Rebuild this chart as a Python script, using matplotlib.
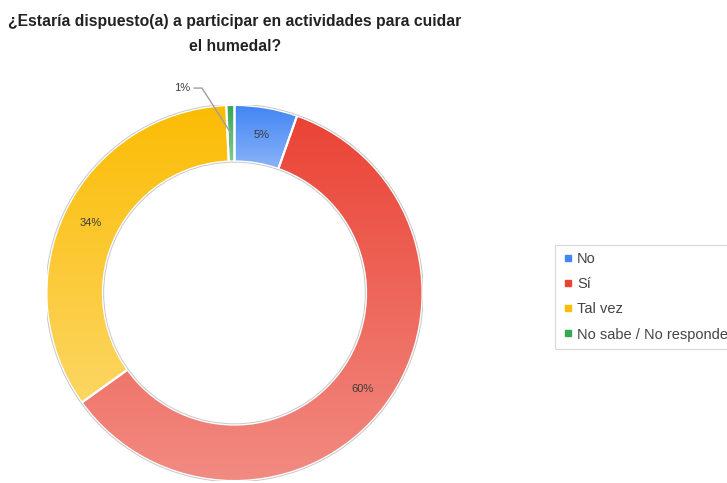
import numpy as np
import matplotlib
matplotlib.use("Agg")
import matplotlib.pyplot as plt
from matplotlib.colors import LinearSegmentedColormap
from matplotlib.lines import Line2D
from matplotlib.patches import Circle, Wedge

plt.rcParams['font.family'] = ['Liberation Sans', 'DejaVu Sans']

title = "¿Estaría dispuesto(a) a participar en actividades para cuidar\nel humedal?"
categories = ["No", "Sí", "Tal vez", "No sabe / No responde"]
values = [5.4, 59.7, 34.2, 0.7]
top_colors = ["#4285F4", "#EA4335", "#FBBC04", "#34A853"]
bottom_colors = ["#8AB4F8", "#F28B82", "#FDD663", "#81C995"]

W, H = 727, 483
fig = plt.figure(figsize=(W / 100, H / 100), dpi=100)

cx, cy, R = 234.5, 293.0, 188.0
ax = fig.add_axes([(cx - R) / W, (H - cy - R) / H, 2 * R / W, 2 * R / H])
ring = 0.30

wedges, _ = ax.pie(values, startangle=90, counterclock=False, radius=1.0,
                   colors=top_colors,
                   wedgeprops=dict(width=ring, edgecolor='white', linewidth=1.5))

# per-slice vertical gradient
for w, c0, c1 in zip(wedges, top_colors, bottom_colors):
    t = np.linspace(np.radians(w.theta1), np.radians(w.theta2), 200)
    xs = np.concatenate([np.cos(t), (1 - ring) * np.cos(t)])
    ys = np.concatenate([np.sin(t), (1 - ring) * np.sin(t)])
    cmap = LinearSegmentedColormap.from_list("g", [c1, c0])
    grad = np.linspace(0, 1, 256).reshape(-1, 1)
    im = ax.imshow(grad, extent=[xs.min(), xs.max(), ys.min(), ys.max()],
                   origin='lower', cmap=cmap, aspect='auto', zorder=w.get_zorder() + 0.1,
                   interpolation='bilinear')
    im.set_clip_path(w)
for w in wedges:
    ax.add_patch(Wedge((0, 0), 1.0, w.theta1, w.theta2, width=ring,
                       facecolor='none', edgecolor='white', linewidth=1.5, zorder=3))

# faint outline
ax.add_patch(Circle((0, 0), 1.004, fill=False, edgecolor='#c8c8c8', linewidth=0.7, zorder=4))
ax.add_patch(Circle((0, 0), 1 - ring - 0.004, fill=False, edgecolor='#c8c8c8', linewidth=0.7, zorder=4))

# labels
mid_r = 1 - ring / 2
for w, v in zip(wedges, values):
    ang = np.radians((w.theta1 + w.theta2) / 2)
    x, y = mid_r * np.cos(ang), mid_r * np.sin(ang)
    lbl = f"{v:.0f}%"
    if v >= 2:
        ax.text(x, y, lbl, ha='center', va='center', fontsize=8, color='#3c3c3c', zorder=5)
    else:
        ax.plot([-0.215, -0.173, x], [1.09, 1.09, y], color='#9e9e9e', lw=1.0, zorder=5,
                clip_on=False)
        ax.text(-0.235, 1.09, lbl, ha='right', va='center', fontsize=8, color='#3c3c3c',
                zorder=5, clip_on=False)

ax.set_xlim(-1, 1)
ax.set_ylim(-1, 1)
ax.set_aspect('auto')
ax.axis('off')

fig.text(235 / W, 1 - 14 / H, title, ha='center', va='top', fontsize=11.3,
         fontweight='bold', color='#222222', linespacing=1.85, multialignment='center')

handles = [Line2D([], [], marker='s', linestyle='none', markersize=4,
                  markerfacecolor=c, markeredgecolor=c) for c in top_colors]
leg = fig.legend(handles, categories, loc='upper left',
                 bbox_to_anchor=(555 / W, 1 - 245 / H), frameon=True, fancybox=False,
                 fontsize=10.5, labelspacing=0.76, handletextpad=0.2, handlelength=0.8,
                 borderpad=0.5, borderaxespad=0)
leg.get_frame().set_edgecolor('#d0d0d0')
leg.get_frame().set_linewidth(0.8)
for t in leg.get_texts():
    t.set_color('#444444')

fig.savefig("out.png", dpi=100)
